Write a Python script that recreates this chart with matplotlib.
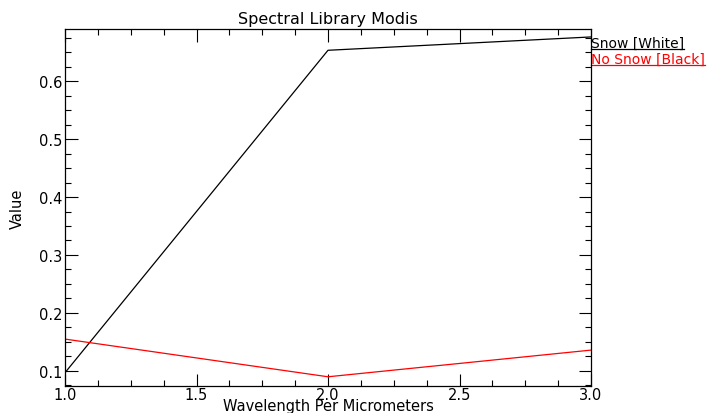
import matplotlib
matplotlib.use('Agg')
import matplotlib.pyplot as plt
from matplotlib.ticker import MultipleLocator

wavelength = [1.0, 2.0, 3.0]
snow = [0.097, 0.653, 0.676]
no_snow = [0.155, 0.090, 0.136]
legend_labels = ['Snow [White]', 'No Snow [Black]']
legend_colors = ['black', 'red']

fig = plt.figure(figsize=(7.08, 4.14), dpi=100)
ax = fig.add_axes([65 / 708, 1 - 387 / 414, (591 - 65) / 708, (387 - 30) / 414])

ax.plot(wavelength, snow, color='black', lw=0.9)
ax.plot(wavelength, no_snow, color='red', lw=0.9)

ax.set_xlim(1.0, 3.0)
ax.set_ylim(0.0741, 0.6897)
ax.xaxis.set_major_locator(MultipleLocator(0.5))
ax.xaxis.set_minor_locator(MultipleLocator(0.125))
ax.yaxis.set_major_locator(MultipleLocator(0.1))
ax.yaxis.set_minor_locator(MultipleLocator(0.025))
ax.tick_params(which='both', direction='in', top=True, right=True,
               labelsize=10.5, width=0.8, color='black')
ax.tick_params(which='major', length=9, pad=2)
ax.tick_params(axis='x', which='major', pad=1)
ax.tick_params(which='minor', length=4.5)
for s in ax.spines.values():
    s.set_linewidth(0.9)

ax.set_title('Spectral Library Modis', fontsize=11.5, pad=4)
ax.set_xlabel('Wavelength Per Micrometers', fontsize=10.5, labelpad=-3)
ax.set_ylabel('Value', fontsize=10.5, labelpad=10)

fig.canvas.draw()
renderer = fig.canvas.get_renderer()
ys = [0.95, 0.905]
for lab, col, y in zip(legend_labels, legend_colors, ys):
    t = ax.text(1.0, y, lab, color=col, fontsize=10, transform=ax.transAxes,
                ha='left', va='baseline', clip_on=False)
    bb = t.get_window_extent(renderer)
    x1 = ax.transAxes.inverted().transform((bb.x1, bb.y0))[0]
    ax.plot([1.0, x1], [y - 0.006, y - 0.006], color=col, lw=0.9,
            transform=ax.transAxes, clip_on=False)

fig.savefig('out.png', dpi=100)
